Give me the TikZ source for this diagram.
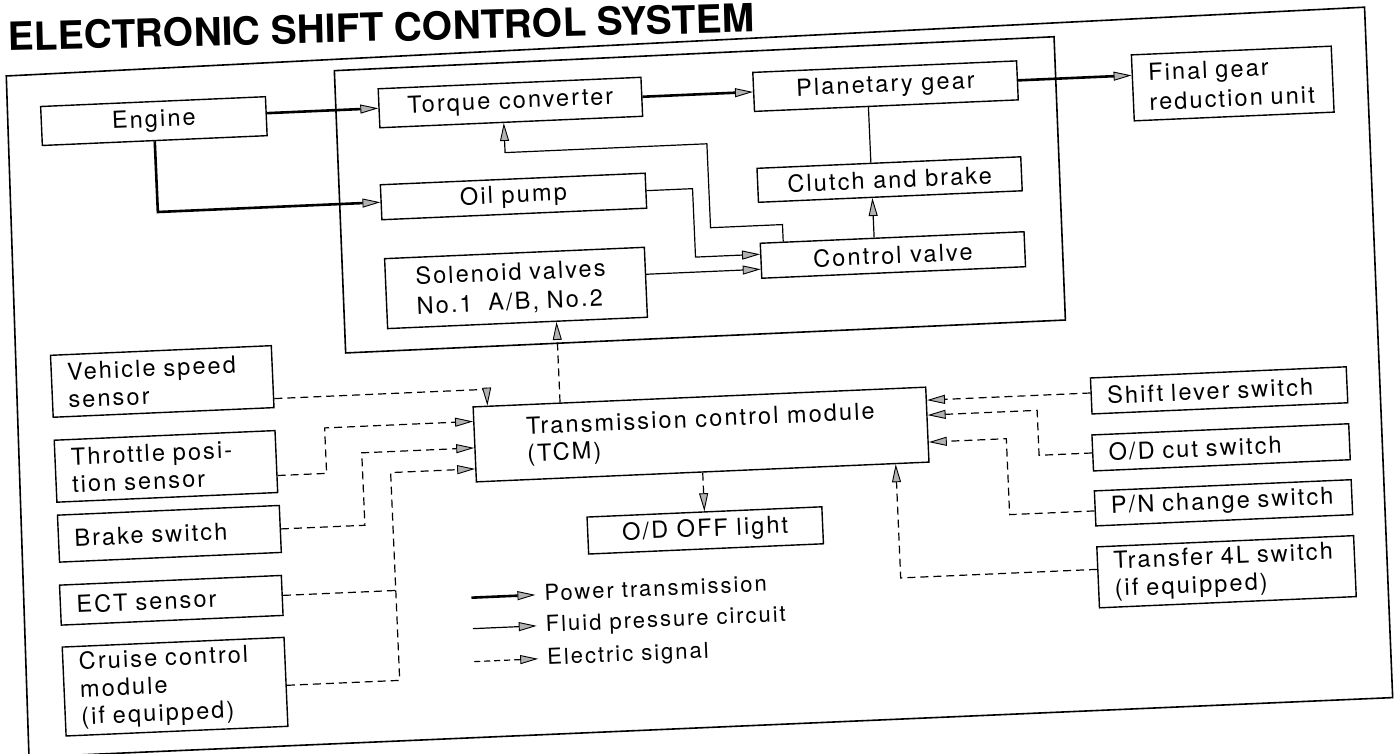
\documentclass[tikz,border=0pt]{standalone}
\usepackage{fontspec}
\setmainfont{TeX Gyre Heros}[LetterSpace=9]
\newfontfamily\ttlfont{TeX Gyre Heros}
\usetikzlibrary{arrows.meta,calc}
\newcommand\bodyfnt{\fontsize{23.5}{27.5}\selectfont}
\newcommand\widefnt{\fontsize{23.5}{29.5}\selectfont}
\newcommand\legfnt{\fontsize{22}{26}\selectfont}
\newcommand\one[1]{\mbox{#1}}
\begin{document}
\begin{tikzpicture}[x=1pt,y=-1pt,
  >={Triangle[length=18pt,width=9pt,fill=gray!60,line width=0.9pt]},
  box/.style={draw,line width=1.4pt,inner xsep=16pt,inner ysep=0pt,font=\bodyfnt},
  lbox/.style={box,align=left},
  cbox/.style={box,align=center},
  power/.style={line width=2.6pt},
  fluid/.style={line width=1.2pt},
  elec/.style={line width=1.2pt,dash pattern=on 8pt off 5pt},
  frame/.style={line width=1.6pt,line join=miter},
  legtext/.style={anchor=base west,inner sep=0pt,font=\legfnt}
]
\useasboundingbox (0,0) rectangle (1399,753);
\fill[white] (0,0) rectangle (1399,753);
\clip (0,0) rectangle (1399,753);
\begin{scope}[transform canvas={rotate around={2.5:(700,376)}}]
% title
\node[anchor=base west,inner sep=0pt,rotate=-1.05,font={\ttlfont\bfseries\fontsize{38.9}{40}\selectfont}] (title) at (23,21) {ELECTRONIC SHIFT CONTROL SYSTEM};
% frames
\draw[frame] (20,46) -- (1380,36.5) -- (1378,727.5) -- (13,727.5) -- cycle;
\draw[frame] (348,55) -- (1068.5,52.5) -- (1067.5,336) -- (347,337.5) -- cycle;
% transmission blocks
\node[cbox,minimum width=225pt,minimum height=39pt] (engine) at (165.5,97.5) {Engine};
\node[cbox,minimum width=263pt,minimum height=39pt] (torque) at (522.5,94.5) {Torque converter};
\node[cbox,minimum width=264pt,minimum height=39pt] (planet) at (898,94.5) {Planetary gear};
\node[lbox,font=\widefnt,text width=168pt,minimum height=66pt] (final) at (1245,107) {\one{Final gear}\\\one{reduction unit}};
\node[cbox,minimum width=265pt,minimum height=35pt] (oil) at (521.5,188.5) {Oil pump};
\node[cbox,minimum width=264pt,minimum height=34pt] (clutch) at (898,188) {Clutch and brake};
\node[cbox,minimum width=264pt,minimum height=35pt] (ctrl) at (898,263.5) {Control valve};
\node[box,font=\widefnt,align=left,inner xsep=30pt,text width=200pt,minimum height=70pt] (sol) at (520,280) {\one{Solenoid valves}\\\one{No.1~~A/B, No.2}};
% sensors left
\node[lbox,text width=189pt,minimum height=62pt] (vss) at (162.5,358) {\one{Vehicle speed}\\\one{sensor}};
\node[lbox,text width=189pt,minimum height=62pt] (thr) at (162.5,443) {\one{Throttle posi-}\\\one{tion sensor}};
\node[lbox,text width=190pt,minimum height=47pt] (brake) at (163,510.5) {\one{Brake switch}};
\node[lbox,text width=190pt,minimum height=40pt] (ect) at (162,577) {\one{ECT sensor}};
\node[lbox,text width=190pt,minimum height=89pt] (cruise) at (162,663.5) {\one{Cruise control}\\\one{module}\\\one{(if equipped)}};
% TCM and light
\node[box,align=left,minimum width=453pt,minimum height=75pt] (tcm) at (698.5,434.5) {Transmission control module\\(TCM)};
\node[cbox,minimum width=235pt,minimum height=37pt] (odoff) at (698.5,530.5) {O/D OFF light};
% switches right
\node[lbox,text width=224pt,minimum height=36pt] (shift) at (1218,413) {\one{Shift lever switch}};
\node[lbox,text width=225pt,minimum height=36pt] (odcut) at (1217.5,470) {\one{O/D cut switch}};
\node[lbox,text width=225pt,minimum height=35pt] (pn) at (1217.5,525.5) {\one{P/N change switch}};
\node[lbox,text width=225pt,minimum height=61pt] (tr) at (1217.5,594.5) {\one{Transfer 4L switch}\\\one{(if equipped)}};
% power transmission
\draw[power,->] (engine.east |- torque.west) -- (torque.west);
\draw[power,->] (torque.east) -- (planet.west);
\draw[power,->] (planet.east) -- (planet.east -| final.west);
\draw[power,->] (engine.south) |- (oil.west);
% fluid pressure
\coordinate (cvhigh) at ($(ctrl.west)+(0,-6.5)$);
\coordinate (cvlow) at ($(ctrl.west)+(0,8.5)$);
\draw[fluid,->] (oil.east) -- ++(46,0) |- (cvhigh);
\draw[fluid,->] (sol.east |- cvlow) -- (cvlow);
\draw[fluid,->] ($(ctrl.north)+(-109,0)$) -- ++(0,-17) -- ++(-72,0) -- ++(0,-84) -| ($(torque.south)+(-7.5,0)$);
\draw[fluid,->] ($(ctrl.north)+(-18,0)$) -- ($(clutch.south)+(-18,0)$);
\draw[fluid] ($(planet.south)+(-18,0)$) -- ($(clutch.north)+(-18,0)$);
% electric signals
\draw[elec,->] ($(vss.east)+(0,22)$) -| ($(tcm.north west)+(15,0)$);
\draw[elec,->] ($(thr.east)+(0,14)$) -- ++(49,0) |- ($(tcm.west)+(0,-23)$);
\draw[elec,->] (brake.east) -- ++(84,0) |- ($(tcm.west)+(0,3.5)$);
\draw[elec] (ect.east) -- ++(113,0);
\draw[elec,->] ($(cruise.east)+(0,3.5)$) -- ++(113,0) |- ($(tcm.west)+(0,24.5)$);
\coordinate (sv) at ($(sol.south)+(39,0)$);
\draw[elec,->] (sv |- tcm.north) -- (sv);
\draw[elec,->] (tcm.south) -- (odoff.north);
\coordinate (sl) at ($(shift.west)+(0,-3)$);
\draw[elec,->] (sl) -- (sl -| tcm.east);
\draw[elec,->] (odcut.west) -- ++(-53,0) |- ($(tcm.east)+(0,-9.5)$);
\draw[elec,->] ($(pn.west)+(0,2.5)$) -- ++(-85,0) |- ($(tcm.east)+(0,17.5)$);
\draw[elec,->] ($(tr.west)+(0,-8)$) -| ($(tcm.south east)+(-34,0)$);
% legend
\node[legtext] (lp) at (535,594) {Power transmission};
\node[legtext] (lf) at (535,625) {Fluid pressure circuit};
\node[legtext] (le) at (535,658) {Electric signal};
\draw[power,->] ($(lp.base west)+(-73,-6.5)$) -- ($(lp.base west)+(-9,-6.5)$);
\draw[fluid,->] ($(lf.base west)+(-73,-6.5)$) -- ($(lf.base west)+(-9,-6.5)$);
\draw[fluid,dash pattern=on 6pt off 4pt,->] ($(le.base west)+(-73,-6.5)$) -- ($(le.base west)+(-9,-6.5)$);
\end{scope}
\end{tikzpicture}
\end{document}
